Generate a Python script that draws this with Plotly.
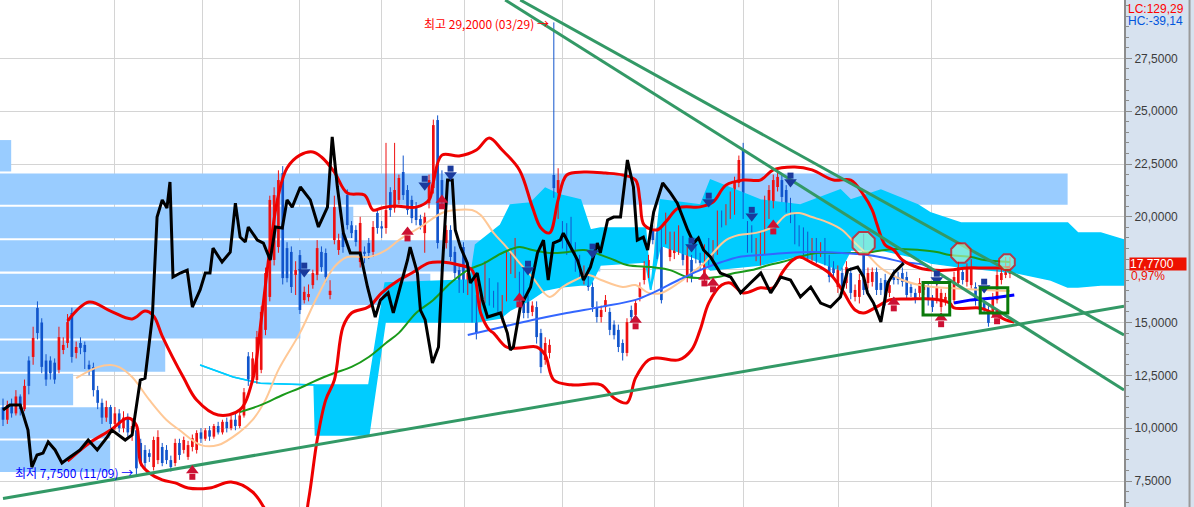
import plotly.graph_objects as go

# ---------------- data ----------------
opens = [11.0,10.4,11.1,10.7,11.5,10.9,13.2,13.37,15.69,15.0,13.2,13.2,13.1,12.76,13.7,14.03,15.45,13.56,14.03,13.94,
         13.0,12.89,11.8,11.2,10.5,11.0,10.2,10.7,10.0,10.5,9.8,9.9,9.3,8.97,8.82,8.16,8.49,9.11,8.97,8.49,
         8.35,9.3,8.97,8.64,9.11,8.97,9.8,9.5,9.9,9.6,10.1,9.8,10.3,10.0,10.4,10.1,10.6,13.4,12.3,12.28,
         12.76,14.65,16.21,17.96,18.57,22.07,18.52,18.34,17.25,18.19,16.06,16.2,16.77,17.25,18.34,18.29,16.3,18.9,18.43,19.23,
         21.03,19.6,19.38,17.86,18.35,18.76,18.34,20.18,19.55,19.47,21.17,20.41,20.8,22.12,21.27,20.8,20.46,19.9,19.23,20.65,
         21.36,24.58,21.74,18.76,19.38,18.34,17.48,18.57,16.54,16.68,16.06,15.73,16.06,16.82,16.3,16.68,15.26,16.21,17.48,17.34,
         17.15,17.34,16.06,15.5,15.73,14.5,13.23,13.56,21.98,20.65,19.52,19.38,19.71,18.57,17.96,17.01,17.34,16.68,15.73,15.26,
         15.73,15.5,14.9,14.65,14.03,13.56,15.59,15.36,16.21,17.01,17.34,19.38,19.23,19.38,18.9,18.1,18.29,18.43,18.9,17.15,
         17.96,18.76,18.1,17.15,18.76,17.96,18.43,20.0,19.85,20.18,20.32,21.6,23.16,19.52,19.38,18.1,17.96,18.43,20.18,20.65,
         21.41,21.74,21.27,20.65,19.99,19.38,19.23,19.04,18.1,18.76,18.29,18.76,17.96,17.62,16.68,17.34,16.87,17.34,16.21,16.21,
         18.57,16.87,16.92,17.39,16.87,17.01,16.4,17.25,17.15,17.34,17.15,16.68,16.4,16.4,16.54,16.68,16.11,16.06,15.73,16.06,
         16.06,16.06,16.87,17.39,16.92,16.77,16.68,16.06,15.92,15.59,15.45,16.06,17.01,17.25,17.3]
highs = [11.4,11.3,11.4,11.8,11.6,12.3,13.4,14.8,16.0,15.2,13.5,13.4,13.3,14.8,14.3,15.4,15.7,14.1,14.3,14.1,
         13.2,13.1,12.0,11.4,11.3,11.1,11.0,10.9,10.8,10.7,10.4,10.1,9.5,9.2,9.0,9.6,9.9,9.3,9.2,8.7,
         9.5,9.5,9.6,9.4,9.7,9.9,10.0,10.0,10.1,10.2,10.3,10.4,10.5,10.6,10.7,10.8,11.9,13.6,13.6,14.6,
         15.8,17.6,21.0,21.4,22.2,22.4,18.8,18.6,17.9,18.43,16.7,16.8,17.5,18.9,18.6,18.5,17.0,21.0,19.2,19.5,
         21.3,19.8,19.6,20.0,18.6,19.0,19.8,20.4,19.8,23.5,21.4,23.5,22.0,22.9,21.5,21.0,20.7,20.1,20.2,22.0,
         24.6,24.8,22.2,19.6,19.6,18.6,17.7,18.8,17.6,16.9,16.3,16.5,17.9,17.1,16.5,16.9,16.3,18.4,18.5,19.0,
         17.4,17.6,16.3,16.0,16.0,14.7,14.3,14.2,29.2,22.3,19.8,19.7,20.0,18.8,18.2,17.7,17.6,16.9,16.0,15.8,
         16.3,15.7,15.1,14.9,14.2,15.2,15.8,16.1,16.9,17.9,18.2,19.6,19.5,19.6,20.2,19.3,19.3,19.6,19.1,18.6,
         18.2,19.0,18.3,18.7,19.0,18.9,20.3,20.3,20.6,21.2,21.9,22.9,23.5,19.8,19.6,19.0,19.3,21.0,21.5,22.0,
         22.2,22.0,21.5,20.9,20.2,19.6,19.5,19.3,19.0,19.0,18.8,19.0,18.2,17.9,17.7,17.6,17.9,17.6,16.8,17.3,
         19.2,17.6,17.6,17.6,17.1,17.3,17.0,17.5,17.4,17.6,17.4,16.9,16.6,17.1,16.9,16.9,16.3,16.9,16.6,16.4,
         17.0,17.4,17.9,17.6,17.8,18.0,16.9,16.3,16.1,15.8,16.4,17.5,17.6,18.1,18.1]
lows = [10.1,10.2,10.5,10.6,10.6,10.8,11.6,13.0,14.2,12.6,12.0,12.3,12.1,12.6,13.5,13.8,13.1,13.3,13.5,12.8,
        12.5,11.5,10.9,10.2,10.3,10.0,9.9,9.8,9.8,9.6,9.4,7.75,8.2,8.1,8.4,8.0,8.3,8.2,8.3,7.95,
        8.2,8.5,8.8,8.5,8.9,8.8,9.3,9.4,9.4,9.5,9.7,9.7,9.8,9.9,9.9,10.0,10.5,12.0,12.1,12.1,
        12.6,14.4,16.0,17.7,18.3,16.8,16.9,16.4,16.3,15.4,15.9,16.0,16.6,17.0,17.4,16.9,16.1,18.7,18.2,18.3,
        19.4,19.0,18.6,17.6,17.8,18.0,18.1,19.2,19.0,19.2,20.0,20.2,20.6,20.8,20.1,19.7,19.6,19.4,18.3,20.4,
        21.1,18.5,20.5,18.5,17.9,17.1,16.4,16.4,16.3,15.0,14.2,15.5,15.9,15.8,15.7,15.5,15.0,16.0,17.3,17.1,
        15.8,15.2,15.2,15.3,14.0,12.6,13.0,13.3,20.9,19.9,18.5,18.2,18.3,17.4,17.1,16.8,16.5,15.5,15.0,15.0,
        15.5,14.4,14.2,13.6,13.2,13.4,15.0,15.2,16.0,16.8,17.1,18.7,18.0,15.9,18.7,17.9,18.0,18.2,17.7,16.9,
        16.9,17.8,17.5,16.9,17.7,17.7,18.2,19.5,19.6,19.9,20.1,21.4,19.9,18.3,18.3,17.9,17.7,18.2,19.9,20.4,
        21.2,20.7,20.2,19.7,18.7,18.6,18.0,18.0,17.9,17.8,18.1,17.7,16.9,17.1,16.4,16.4,16.6,16.1,16.0,15.9,
        16.3,16.6,16.7,16.3,16.3,15.8,16.2,16.8,16.8,16.7,16.1,16.2,15.9,16.2,16.3,15.8,15.5,15.9,15.5,15.8,
        15.8,15.9,16.7,16.8,16.7,16.6,15.8,15.4,15.4,14.8,15.3,15.9,16.8,17.1,17.1]
closes = [10.4,11.1,10.7,11.5,10.9,12.0,12.0,14.27,14.5,12.9,12.3,12.6,12.3,14.31,13.94,15.02,13.37,13.84,13.8,13.6,
          12.8,11.8,11.2,10.5,11.0,10.2,10.7,10.0,10.5,9.8,10.1,8.1,8.35,8.35,8.64,9.44,9.58,8.35,8.49,8.16,
          9.3,8.73,9.44,9.2,9.53,9.77,9.5,9.9,9.6,10.1,9.8,10.3,10.0,10.4,10.1,10.6,11.7,12.3,13.3,14.31,
          15.5,17.34,20.8,21.03,21.74,17.1,17.1,16.68,17.48,15.59,16.45,16.35,17.34,18.52,17.62,17.15,16.5,20.46,18.9,18.57,
          19.61,19.23,18.81,19.71,18.25,18.29,19.52,19.47,19.45,20.32,20.32,21.27,21.84,21.03,20.32,19.94,19.85,19.6,19.99,21.74,
          24.34,18.76,20.8,19.38,18.1,17.34,16.68,16.68,17.34,15.26,14.5,16.21,17.62,16.06,15.9,15.73,16.06,18.1,18.29,18.76,
          16.06,15.45,15.45,15.8,14.31,12.89,14.03,13.94,21.36,21.74,18.76,18.43,18.57,17.62,17.34,17.48,16.68,15.73,15.26,15.59,
          16.06,14.65,14.4,13.84,13.56,15.02,15.26,15.92,16.68,17.62,17.96,18.9,18.29,16.06,19.99,19.04,19.04,19.38,17.96,18.43,
          17.15,18.1,17.82,18.43,17.96,18.67,20.08,19.75,20.32,20.94,21.65,22.69,20.18,18.57,18.57,18.76,19.04,20.8,21.27,21.74,
          21.89,20.94,20.46,19.99,18.9,18.9,18.29,18.29,18.76,18.1,18.52,17.96,17.15,17.34,17.48,16.68,17.62,16.4,16.54,17.01,
          16.54,17.34,17.39,16.54,16.54,16.06,16.77,17.01,17.01,16.92,16.3,16.4,16.16,16.87,16.68,16.06,15.73,16.63,16.4,16.21,
          16.77,17.15,17.62,17.01,17.58,17.62,16.06,15.59,15.59,14.98,16.21,17.25,17.34,17.6,17.77]

# month boundaries (trading-day index)
month_edges = [26.0, 46.3, 68.9, 88.0, 107.3, 130.1, 151.5, 172.0, 194.1, 215.7]

# volume profile (price bin centre, bar length in trading days)
vp_price = [22.89, 21.31, 19.73, 18.15, 16.57, 14.99, 13.41, 11.83, 10.25, 8.67]
vp_len = [2.6, 248.1, 82.1, 139.5, 100.0, 69.8, 38.4, 17.0, 25.6, 25.6]

# cloud
cloud_x = [45.8, 53.5, 59.8, 72.3, 72.6, 84.2, 85.0, 88.8, 108.6, 109.8, 115.6, 117.9, 122.6, 126.0, 129.5, 134.2, 136.5,
           138.8, 149.3, 150.5, 152.8, 162.1, 164.4, 176.0, 185.3, 194.6, 197.0, 204.0, 212.6, 215.6, 222.6, 235.8, 243.5,
           247.4, 249.8, 255.1, 260.5]
cloud_top = [12.99, 12.42, 12.13, 12.04, 12.04, 12.04, 12.04, 16.87, 17.01, 18.67, 19.61, 20.56, 20.65, 21.36, 21.03, 20.80,
             19.38, 19.47, 19.47, 16.54, 20.80, 20.56, 21.74, 20.80, 20.56, 21.27, 20.80, 21.27, 20.56, 20.18, 19.71, 19.71,
             19.71, 19.71, 19.23, 19.23, 18.90]
cloud_bot = [12.99, 12.42, 12.13, 12.04, 9.68, 9.68, 9.68, 15.02, 15.02, 15.02, 15.21, 15.59, 16.07, 16.54, 16.68, 16.77,
             16.77, 17.72, 17.86, 16.54, 18.67, 17.96, 17.48, 17.72, 18.19, 17.48, 18.43, 18.43, 18.05, 17.81, 17.62, 17.34,
             17.01, 16.68, 16.68, 16.77, 16.77]

# Bollinger bands
bbu_x = [15, 20, 25, 30, 33, 35, 37, 42, 45, 50, 55, 58, 60, 62, 64, 66, 69, 72, 74, 77, 80, 84, 86, 88, 91, 96, 99, 100,
         102, 106, 110, 113, 116, 120, 123, 125, 127, 129, 131, 135, 140, 144, 147, 148, 149, 152, 154, 157, 162, 165, 168,
         172, 176, 179, 184, 188, 193, 197, 200, 202, 203, 205, 207, 209, 213, 216, 220, 224, 228, 232, 234]
bbu_y = [15.07, 15.97, 15.54, 15.17, 15.54, 15.31, 14.36, 12.37, 11.33, 10.62, 10.86, 12.28, 15.12, 18.43, 21.03, 22.31,
         22.92, 23.07, 22.83, 22.12, 21.13, 21.03, 20.32, 20.42, 20.51, 20.46, 20.80, 21.65, 22.92, 22.88, 23.16, 23.73,
         23.16, 22.22, 20.47, 19.47, 19.24, 20.80, 21.98, 22.12, 22.07, 21.98, 21.74, 20.80, 19.61, 19.38, 19.76, 20.42,
         20.47, 20.70, 21.50, 21.74, 21.74, 22.22, 22.36, 22.22, 21.74, 21.74, 21.03, 20.32, 19.71, 18.67, 18.43, 17.96,
         17.58, 17.48, 17.48, 17.58, 17.58, 17.58, 17.62]
bbl_x = [15, 20, 25, 29, 31, 32, 34, 37, 40, 43, 48, 53, 58, 61, 65, 69, 71, 73, 75, 77, 79, 81, 85, 88, 92, 95, 99, 102,
         106, 109, 111, 113, 114, 117, 120, 124, 126, 128, 132, 139, 142, 145, 147, 150, 152, 157, 160, 162, 164, 167, 169,
         172, 176, 179, 181, 183, 185, 188, 192, 195, 198, 200, 203, 206, 211, 216, 220, 221, 227, 230, 233, 235]
bbl_y = [8.44, 9.29, 9.91, 10.48, 10.14, 8.35, 7.88, 7.55, 7.41, 7.17, 7.17, 7.45, 6.98, 6.13, 4.7, 4.7, 6.6, 9.44, 11.34,
         12.28, 14.79, 15.45, 15.74, 16.40, 17.01, 17.34, 17.82, 17.86, 17.72, 17.48, 15.45, 14.65, 14.50, 13.84, 13.79,
         13.84, 13.46, 12.28, 12.05, 12.05, 11.43, 11.20, 12.38, 13.23, 13.32, 13.23, 13.70, 14.65, 15.92, 16.77, 16.87,
         16.40, 16.64, 16.64, 17.34, 17.86, 18.10, 17.82, 17.34, 16.54, 15.59, 15.45, 15.74, 16.07, 16.11, 16.11, 15.92,
         15.69, 15.69, 15.45, 15.12, 15.02]

# moving averages
ma20_x = [17, 22, 25, 27, 30, 34, 38, 41, 46, 50, 55, 58, 61, 64, 69, 73, 77, 80, 85, 89, 92, 97, 102, 105, 109, 111, 114,
          117, 120, 123, 127, 130, 133, 136, 139, 144, 147, 150, 153, 157, 160, 163, 165, 168, 171, 175, 179, 182, 185, 188,
          192, 195, 198, 201, 204, 209, 213, 216, 220, 228, 234]
ma20_y = [12.37, 12.89, 12.99, 12.89, 12.42, 11.34, 10.39, 9.91, 9.20, 9.20, 9.82, 10.39, 11.34, 12.76, 14.51, 16.21, 17.63,
          18.10, 18.10, 18.43, 18.90, 19.52, 20.18, 20.32, 20.32, 20.09, 19.24, 18.57, 17.82, 17.15, 16.21, 16.68, 17.01,
          17.25, 17.01, 16.68, 16.77, 16.40, 16.40, 16.87, 17.34, 17.82, 18.29, 18.90, 19.14, 19.24, 19.52, 20.08, 20.18,
          19.99, 19.71, 19.38, 18.76, 18.19, 17.58, 17.01, 16.77, 16.68, 16.63, 16.54, 16.49]
ma60_x = [55, 60, 65, 69, 73, 77, 81, 85, 89, 92, 96, 100, 104, 108, 112, 116, 120, 123, 127, 131, 135, 139, 142, 145, 151,
          155, 159, 162, 166, 170, 174, 178, 181, 185, 189, 193, 198, 202, 207, 213, 217, 220, 225, 228, 234]
ma60_y = [10.76, 11.10, 11.57, 11.90, 12.28, 12.61, 12.90, 13.37, 14.03, 14.51, 15.45, 16.07, 16.87, 17.48, 17.82, 18.29,
          18.57, 18.43, 18.29, 18.33, 18.43, 18.19, 17.96, 17.72, 17.61, 17.48, 17.15, 17.11, 17.15, 17.34, 17.48, 17.72,
          17.86, 18.10, 18.29, 18.29, 18.29, 18.34, 18.48, 18.43, 18.34, 18.19, 18.10, 17.96, 17.86]
ma120_x = [108, 116, 123, 131, 139, 147, 151, 157, 162, 167, 171, 176, 182, 188, 195, 201, 205, 209, 214, 216]
ma120_y = [14.41, 14.79, 15.12, 15.45, 15.74, 16.07, 16.40, 17.01, 17.48, 17.86, 18.10, 18.19, 18.29, 18.34, 18.29, 18.19,
           18.05, 17.86, 17.72, 17.48]
ma5s_x = [221, 225, 230, 235]
ma5s_y = [15.92, 16.07, 16.16, 16.30]

# black indicator line
blk_x = [0.0, 1.6, 4.0, 5.1, 5.8, 6.7, 7.9, 9.3, 10.5, 12.1, 13.7, 15.6, 17.9, 19.8, 21.9, 24.2, 25.3, 28.4, 30.0, 31.9,
         33.0, 34.7, 35.8, 37.0, 38.1, 38.8, 39.5, 41.2, 42.8, 44.0, 45.8, 47.0, 48.1, 48.8, 50.9, 52.8, 54.0, 55.1, 56.3,
         57.0, 59.1, 60.5, 62.1, 63.3, 64.9, 66.0, 67.2, 69.1, 71.4, 73.3, 75.4, 76.5, 77.7, 79.1, 80.7, 83.0, 84.7, 86.5,
         87.7, 89.5, 90.7, 92.3, 94.0, 94.6, 96.3, 97.0, 98.1, 99.8, 101.2, 102.1, 103.3, 104.4, 105.1, 106.3, 107.9, 108.6,
         110.2, 111.4, 112.6, 115.6, 117.2, 117.9, 118.6, 120.2, 122.6, 124.2, 125.6, 126.7, 127.9, 129.5, 130.2, 131.9,
         133.5, 134.9, 136.5, 138.1, 138.8, 140.5, 141.9, 143.5, 145.1, 146.5, 147.4, 148.8, 149.8, 151.2, 153.3, 155.1,
         156.7, 159.1, 160.5, 161.6, 162.8, 164.4, 166.7, 169.1, 171.4, 173.7, 176.1, 178.4, 180.7, 183.0, 185.3, 187.7,
         190.0, 192.3, 194.6, 196.3, 198.6, 200.0, 200.9, 202.3, 204.0, 205.6, 207.0, 209.3]
blk_y = [10.86, 11.10, 11.10, 10.39, 9.91, 8.16, 8.73, 8.82, 9.35, 8.97, 8.35, 8.64, 8.97, 9.44, 8.97, 9.58, 9.91, 9.44,
         9.68, 12.28, 12.37, 15.26, 19.99, 20.80, 20.42, 21.65, 17.15, 17.34, 17.48, 15.73, 16.54, 17.34, 17.34, 18.52,
         17.86, 18.33, 20.65, 19.04, 18.81, 19.52, 18.90, 18.76, 17.96, 19.52, 19.47, 20.80, 20.46, 21.41, 20.80, 19.52,
         20.46, 23.78, 21.41, 19.23, 18.29, 18.29, 16.68, 15.26, 16.06, 16.40, 15.45, 16.68, 17.96, 18.57, 17.34, 15.59,
         15.12, 13.08, 13.84, 17.62, 21.74, 21.74, 19.38, 18.57, 17.81, 16.87, 17.34, 16.06, 15.26, 15.45, 14.50, 13.70,
         13.84, 15.73, 16.68, 18.29, 18.90, 17.01, 18.76, 18.90, 19.23, 18.57, 17.96, 17.01, 17.62, 18.76, 18.29, 19.85,
         19.99, 19.99, 22.69, 21.41, 18.90, 19.04, 18.43, 20.23, 21.60, 21.13, 20.65, 19.38, 18.76, 19.00, 18.43, 18.10,
         17.34, 17.15, 16.40, 16.87, 17.34, 16.40, 17.15, 17.01, 16.21, 16.68, 15.92, 15.73, 16.21, 17.48, 17.62, 17.15,
         16.40, 15.92, 15.02, 16.87, 17.34, 17.81]

# trend lines (two anchor points each)
tl_up_x = [0, 260.5]
tl_up_y = [6.67, 15.77]
tl_a_x = [116.7, 260.5]
tl_a_y = [30.26, 11.81]
tl_b_x = [120.2, 260.5]
tl_b_y = [30.26, 14.41]

# signals
dn_x = [70, 98, 104, 122, 137, 160, 164, 174, 183, 217, 228]
dn_y = [17.39, 21.5, 21.98, 17.48, 18.29, 18.57, 20.7, 20.03, 21.65, 17.01, 16.63]
up_x = [44, 94, 102, 120, 147, 163, 165, 179, 207, 218, 231]
up_y = [8.0, 19.28, 20.8, 16.16, 15.12, 17.15, 16.87, 19.61, 15.97, 15.22, 15.36]
circ_x = [200, 222.6, 233.3]
circ_y = [18.76, 18.29, 17.86]
circ_size = [24, 21, 17]
box_x0 = [213.8, 227.1]
box_x1 = [220.0, 233.5]
box_lo = [15.36, 15.45]
box_hi = [16.89, 16.65]

y_ticks = [7.5, 10, 12.5, 15, 17.5, 20, 22.5, 25, 27.5]
y_ticktext = ["7,5000", "10,0000", "12,5000", "15,0000", "", "20,0000", "22,5000", "25,0000", "27,5000"]

X_MIN, X_MAX = -0.7, 260.5
Y_MIN, Y_MAX = 6.27, 30.26

RED = "#ee1111"
BLUE = "#1155cc"

fig = go.Figure()

# volume profile
fig.add_trace(go.Bar(orientation="h", y=vp_price, x=vp_len, base=X_MIN, width=1.485,
                     marker=dict(color="#99ccff", line=dict(width=0)), hoverinfo="skip"))

# cloud
fig.add_trace(go.Scatter(x=cloud_x, y=cloud_bot, mode="lines", line=dict(color="#00ccff", width=1.5), hoverinfo="skip"))
fig.add_trace(go.Scatter(x=cloud_x, y=cloud_top, mode="lines", line=dict(color="#00ccff", width=1.5),
                         fill="tonexty", fillcolor="#00ccff", hoverinfo="skip"))

# candles
idx = list(range(len(closes)))
body_base = [min(o, c) for o, c in zip(opens, closes)]
body_h = [max(abs(c - o), 0.05) for o, c in zip(opens, closes)]
body_col = [RED if c >= o else BLUE for o, c in zip(opens, closes)]
for col in (RED, BLUE):
    wx, wy = [], []
    for i in idx:
        if body_col[i] == col:
            wx += [i, i, None]
            wy += [lows[i], highs[i], None]
    fig.add_trace(go.Scatter(x=wx, y=wy, mode="lines", line=dict(color=col, width=1), hoverinfo="skip"))
fig.add_trace(go.Bar(x=idx, y=body_h, base=body_base, width=0.62,
                     marker=dict(color=body_col, line=dict(width=0)), hoverinfo="skip"))

# moving averages
fig.add_trace(go.Scatter(x=ma20_x, y=ma20_y, mode="lines", line=dict(color="#ffc896", width=2, shape="spline"), hoverinfo="skip"))
fig.add_trace(go.Scatter(x=ma60_x, y=ma60_y, mode="lines", line=dict(color="#1a9a1a", width=2, shape="spline"), hoverinfo="skip"))
fig.add_trace(go.Scatter(x=ma120_x, y=ma120_y, mode="lines", line=dict(color="#3366ff", width=2, shape="spline"), hoverinfo="skip"))
fig.add_trace(go.Scatter(x=ma5s_x, y=ma5s_y, mode="lines", line=dict(color="#0000ff", width=3), hoverinfo="skip"))

# bollinger
fig.add_trace(go.Scatter(x=bbu_x, y=bbu_y, mode="lines", line=dict(color="#ee0000", width=3, shape="spline"), hoverinfo="skip"))
fig.add_trace(go.Scatter(x=bbl_x, y=bbl_y, mode="lines", line=dict(color="#ee0000", width=3, shape="spline"), hoverinfo="skip"))

# black line
fig.add_trace(go.Scatter(x=blk_x, y=blk_y, mode="lines", line=dict(color="#000000", width=3), hoverinfo="skip"))

# trend lines
for tx, ty in ((tl_up_x, tl_up_y), (tl_a_x, tl_a_y), (tl_b_x, tl_b_y)):
    fig.add_trace(go.Scatter(x=tx, y=ty, mode="lines", line=dict(color="#339966", width=3), hoverinfo="skip"))

# circles
fig.add_trace(go.Scatter(x=circ_x, y=circ_y, mode="markers",
                         marker=dict(symbol="octagon", size=circ_size, color="rgba(204,255,204,0.85)",
                                     line=dict(color="#ff0000", width=2)), hoverinfo="skip"))

# arrows
fig.add_trace(go.Scatter(x=dn_x, y=dn_y, mode="markers",
                         marker=dict(symbol="triangle-down", size=11, color="#1a3a9c"), hoverinfo="skip"))
fig.add_trace(go.Scatter(x=dn_x, y=[v + 0.3 for v in dn_y], mode="markers",
                         marker=dict(symbol="square", size=6, color="#1a3a9c"), hoverinfo="skip"))
fig.add_trace(go.Scatter(x=up_x, y=up_y, mode="markers",
                         marker=dict(symbol="triangle-up", size=11, color="#cc1133"), hoverinfo="skip"))
fig.add_trace(go.Scatter(x=up_x, y=[v - 0.3 for v in up_y], mode="markers",
                         marker=dict(symbol="square", size=6, color="#cc1133"), hoverinfo="skip"))

shapes = []
for x0, x1, lo, hi in zip(box_x0, box_x1, box_lo, box_hi):
    shapes.append(dict(type="rect", xref="x", yref="y", x0=x0, x1=x1, y0=lo, y1=hi,
                       line=dict(color="#0a7a0a", width=3), fillcolor="rgba(0,0,0,0)", layer="above"))
shapes.append(dict(type="line", xref="paper", yref="paper", x0=1.0583, x1=1.0583, y0=0, y1=1,
                   line=dict(color="#9a9a9a", width=2)))

hi_i = highs.index(max(highs))
lo_i = lows.index(min(lows))
annotations = [
    dict(x=hi_i, y=highs[hi_i], xref="x", yref="y", xanchor="right", yanchor="middle", xshift=-3, yshift=-1,
         text="최고 29,2000 (03/29) →", showarrow=False,
         font=dict(family="Noto Sans CJK KR", size=12, color="#ff0000")),
    dict(x=lo_i, y=lows[lo_i], xref="x", yref="y", xanchor="right", yanchor="middle", xshift=-1, yshift=3,
         text="최저 7,7500 (11/09) →", showarrow=False,
         font=dict(family="Noto Sans CJK KR", size=12, color="#0000ff")),
    dict(x=1.0045, y=closes[-1], xref="paper", yref="y", xanchor="left", yanchor="middle",
         text="17,7700", showarrow=False, bgcolor="#ee1100", width=56, height=12, align="left", borderpad=0,
         font=dict(family="Liberation Sans", size=12, color="#ffffff")),
    dict(x=1.0045, y=closes[-1], xref="paper", yref="y", xanchor="left", yanchor="middle", yshift=-12,
         text="0,97%", showarrow=False, font=dict(family="Liberation Sans", size=12, color="#ee1100")),
    dict(x=1.0018, y=1.0, xref="paper", yref="paper", xanchor="left", yanchor="top", yshift=0,
         text="LC:129,29", showarrow=False, font=dict(family="Liberation Sans", size=12, color="#ff0000")),
    dict(x=1.0018, y=1.0, xref="paper", yref="paper", xanchor="left", yanchor="top", yshift=-12,
         text="HC:-39,14", showarrow=False, font=dict(family="Liberation Sans", size=12, color="#0055dd")),
]

fig.update_layout(
    width=1194, height=507, margin=dict(l=0, r=70, t=0, b=0),
    paper_bgcolor="#d7e2ef", plot_bgcolor="#ffffff",
    showlegend=False, barmode="overlay",
    shapes=shapes, annotations=annotations,
    xaxis=dict(range=[X_MIN, X_MAX], tickvals=month_edges, showticklabels=False, ticks="",
               showgrid=True, gridcolor="#d4d4d4", gridwidth=1, zeroline=False, fixedrange=True),
    yaxis=dict(range=[Y_MIN, Y_MAX], side="right", tickvals=y_ticks, ticktext=y_ticktext,
               showgrid=True, gridcolor="#d4d4d4", gridwidth=1, zeroline=False,
               showline=True, linecolor="#8c8c8c", linewidth=2,
               ticks="outside", ticklen=6, tickcolor="#8c8c8c",
               tickfont=dict(family="Liberation Sans", size=12, color="#3c3c3c"),
               minor=dict(dtick=0.5, ticklen=3, tickcolor="#8c8c8c", ticks="outside", showgrid=False)),
)

fig.write_html("out.html", config={"displayModeBar": False},
               post_script="document.body.style.margin='0';document.body.style.overflow='hidden';")
